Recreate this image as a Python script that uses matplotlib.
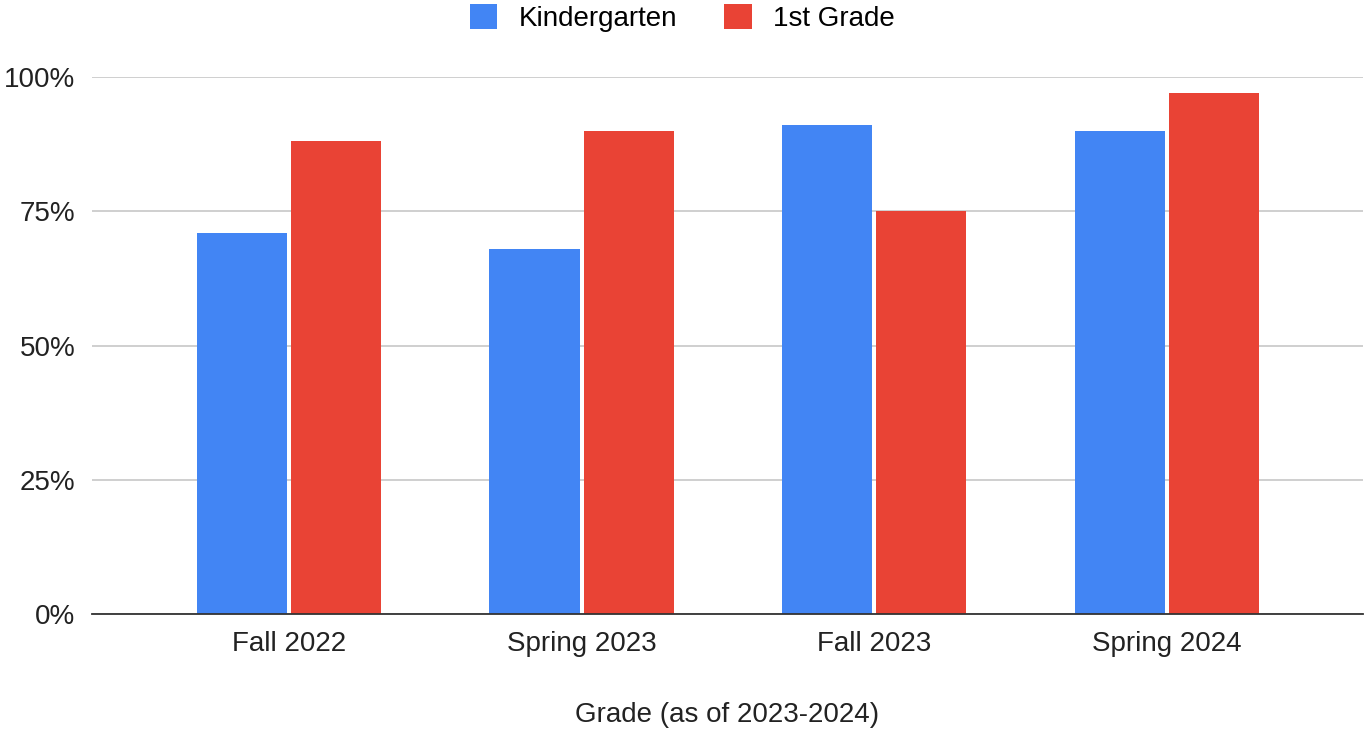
import matplotlib
matplotlib.use("Agg")
import matplotlib.pyplot as plt
import numpy as np
from matplotlib.ticker import FuncFormatter

categories = ["Fall 2022", "Spring 2023", "Fall 2023", "Spring 2024"]
kindergarten = [0.71, 0.68, 0.91, 0.90]
first_grade = [0.88, 0.90, 0.75, 0.97]
series_names = ["Kindergarten", "1st Grade"]
yticks = [0, 0.25, 0.5, 0.75, 1.0]

plt.rcParams['font.family'] = ['Liberation Sans', 'DejaVu Sans']

fig = plt.figure(figsize=(13.64, 7.31), dpi=100)
ax = fig.add_axes([92/1364, 1-614/731, (1363-92)/1364, (614-77)/731])

x = np.arange(len(categories))
w = 0.308
off = 0.161
blue = "#4285F4"
red = "#E94335"
ax.bar(x - off, kindergarten, width=w, color=blue, label=series_names[0], zorder=3)
ax.bar(x + off, first_grade, width=w, color=red, label=series_names[1], zorder=3)

ax.set_xlim(-0.673, 3.67)
ax.set_ylim(0, 1.0)
ax.set_yticks(yticks)
ax.yaxis.set_major_formatter(FuncFormatter(lambda v, p: f"{int(round(v*100))}%"))
ax.set_xticks(x)
ax.set_xticklabels(categories)
ax.tick_params(axis='both', length=0, labelsize=20, colors="#222222")
ax.tick_params(axis='y', pad=12)
ax.tick_params(axis='x', pad=12)
ax.grid(axis='y', color="#cccccc", linewidth=1.3, zorder=0)
for s in ["top", "right", "left"]:
    ax.spines[s].set_visible(False)
ax.spines["bottom"].set_color("#333333")
ax.spines["bottom"].set_linewidth(1.3)
ax.spines["bottom"].set_zorder(4)
ax.set_xlabel("Grade (as of 2023-2024)", fontsize=20, color="#222222", labelpad=33)

fig.legend(loc="center", bbox_to_anchor=(0.5, 1-18/731), ncol=2, frameon=False,
           fontsize=20, handlelength=1.0, handleheight=1.0, handletextpad=0.75,
           columnspacing=1.7)

fig.savefig("out.png", dpi=100)
